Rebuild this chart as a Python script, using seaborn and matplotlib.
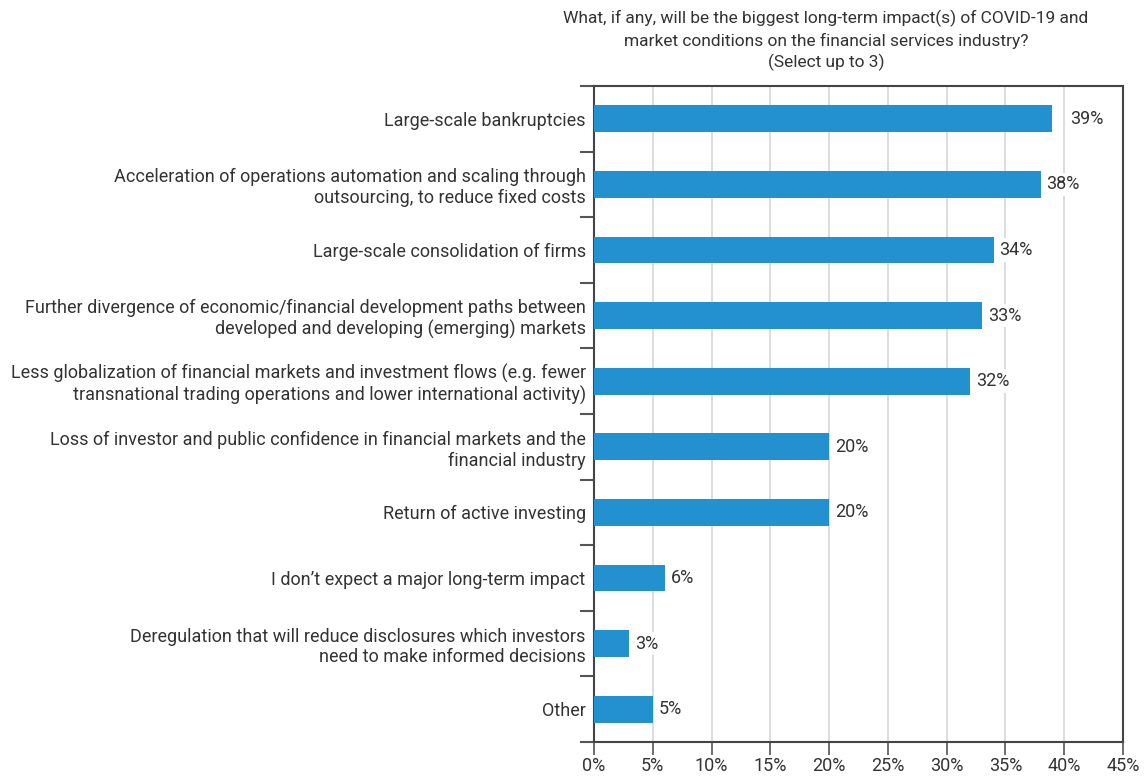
import matplotlib
matplotlib.use("Agg")
import matplotlib.pyplot as plt
import seaborn as sns
import pandas as pd
import numpy as np

# Data
impacts = [
    "Large-scale bankruptcies",
    "Acceleration of operations automation and scaling through\noutsourcing, to reduce fixed costs",
    "Large-scale consolidation of firms",
    "Further divergence of economic/financial development paths between\ndeveloped and developing (emerging) markets",
    "Less globalization of financial markets and investment flows (e.g. fewer\ntransnational trading operations and lower international activity)",
    "Loss of investor and public confidence in financial markets and the\nfinancial industry",
    "Return of active investing",
    "I don\u2019t expect a major long-term impact",
    "Deregulation that will reduce disclosures which investors\nneed to make informed decisions",
    "Other",
]
pct = [39, 38, 34, 33, 32, 20, 20, 6, 3, 5]
x_ticks = [0, 5, 10, 15, 20, 25, 30, 35, 40, 45]

title = ("What, if any, will be the biggest long-term impact(s) of COVID-19 and\n"
         "market conditions on the financial services industry?\n(Select up to 3)")

BAR = "#2390cf"
DARK = "#333333"
GRID = "#d3d3d3"

sns.set_theme(style="white")
plt.rcParams["font.family"] = ["Roboto", "DejaVu Sans"]

df = pd.DataFrame({"impact": impacts, "pct": pct})

W, H = 1144, 777
fig = plt.figure(figsize=(W / 100, H / 100), dpi=100)
ax = fig.add_axes([594 / W, 1 - 742 / H, (1123 - 594) / W, (742 - 86) / H])

sns.barplot(data=df, x="pct", y="impact", order=impacts, color=BAR,
            saturation=1, width=0.41, orient="h", ax=ax, zorder=3, linewidth=0)

ax.set_xlim(0, 45)
ax.set_ylim(len(impacts) - 0.5, -0.5)
ax.set_xticks(x_ticks)
ax.set_xticklabels([f"{t}%" for t in x_ticks])
ax.xaxis.grid(True, color=GRID, linewidth=1.1, zorder=0)
ax.set_axisbelow(True)

# category boundary ticks on the left
ax.set_yticks(np.arange(-0.5, len(impacts)), minor=True)
ax.tick_params(axis="y", which="major", left=False, length=0, pad=6, labelsize=13, labelcolor=DARK)
ax.tick_params(axis="y", which="minor", left=True, length=10, width=1.5, color="#555555", direction="out")
ax.tick_params(axis="x", length=9, width=1.2, color="#555555", pad=2,
               labelsize=13, labelcolor=DARK, bottom=True, direction="out")
for lbl in ax.get_yticklabels():
    lbl.set_multialignment("right")

ax.set_xlabel("")
ax.set_ylabel("")
for side in ["left", "right", "top", "bottom"]:
    ax.spines[side].set_visible(True)
    ax.spines[side].set_color("#444444")
    ax.spines[side].set_linewidth(1.5)

# value labels
for i, v in enumerate(pct):
    xpos = v + (1.5 if v == 39 else 0.5)
    ax.text(xpos, i, f"{v}%", va="center", ha="left", fontsize=13, color=DARK,
            zorder=4, bbox=dict(facecolor="white", edgecolor="none", pad=2))

fig.text(0.722, 0.987, title, ha="center", va="top", fontsize=12.5, color=DARK,
         linespacing=1.4)

fig.savefig("out.png", dpi=100)
